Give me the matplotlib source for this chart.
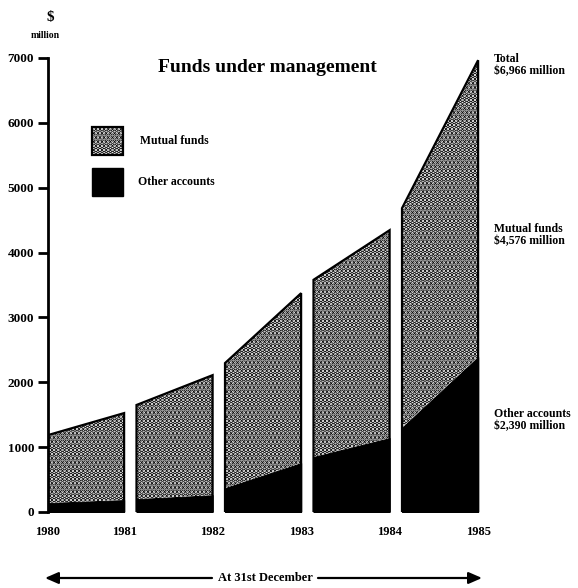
import matplotlib
matplotlib.use("Agg")
import matplotlib.pyplot as plt
from matplotlib.patches import Rectangle, FancyArrowPatch

# Funds under management, $ million, at the start and end of each yearly block
years = ["1980", "1981", "1982", "1983", "1984", "1985"]
mutual_start = [1046, 1450, 1926, 2730, 3384]
mutual_end = [1340, 1850, 2619, 3205, 4576]
other_start = [140, 200, 370, 850, 1300]
other_end = [185, 260, 755, 1140, 2390]
y_ticks = [0, 1000, 2000, 3000, 4000, 5000, 6000, 7000]

total_end_1985 = mutual_end[-1] + other_end[-1]

plt.rcParams["hatch.color"] = "black"
plt.rcParams["hatch.linewidth"] = 2.4
SERIF = ["Liberation Serif", "DejaVu Serif"]
STIPPLE = "...."

fig = plt.figure(figsize=(5.78, 5.88), dpi=100)
ax = fig.add_axes([48 / 578, 76 / 588, 442.5 / 578, 454 / 588])

block_w = 0.86
for i in range(len(mutual_start)):
    x = [i, i + block_w]
    o = [other_start[i], other_end[i]]
    t = [other_start[i] + mutual_start[i], other_end[i] + mutual_end[i]]
    ax.fill_between(x, 0, o, facecolor="black", edgecolor="black", lw=0.8)
    ax.fill_between(x, o, t, facecolor="white", edgecolor="black",
                    hatch=STIPPLE, lw=0)
    # outline of the stacked block
    ax.plot([x[0], x[0], x[1], x[1]], [0, t[0], t[1], 0], color="black",
            lw=1.6, solid_joinstyle="miter")

ax.set_xlim(0, 5)
ax.set_ylim(0, 7000)
for s in ["top", "right", "bottom"]:
    ax.spines[s].set_visible(False)
ax.spines["left"].set_linewidth(2)

ax.set_yticks(y_ticks)
ax.set_yticklabels([str(v) for v in y_ticks], fontfamily=SERIF,
                   fontweight="bold", fontsize=9.5)
ax.tick_params(axis="y", length=7, width=2, pad=3)

tick_x = [0] + [i + block_w for i in range(len(years) - 1)]
ax.set_xticks(tick_x)
ax.set_xticklabels(years, fontfamily=SERIF, fontweight="bold", fontsize=9)
ax.tick_params(axis="x", length=0, pad=10)

# title
ax.text(0.495, 0.978, "Funds under management", transform=ax.transAxes,
        ha="center", va="center", fontfamily=SERIF, fontweight="bold",
        fontsize=14)

# legend
ax.add_patch(Rectangle((0.0994, 0.786), 0.070, 0.0617, transform=ax.transAxes,
                       facecolor="white", edgecolor="black", hatch=STIPPLE,
                       lw=1.6, clip_on=False))
ax.add_patch(Rectangle((0.0994, 0.696), 0.070, 0.0617, transform=ax.transAxes,
                       facecolor="black", edgecolor="black", lw=1,
                       clip_on=False))
ax.text(0.208, 0.817, "Mutual funds", transform=ax.transAxes, ha="left",
        va="center", fontfamily=SERIF, fontweight="bold", fontsize=8.5)
ax.text(0.203, 0.727, "Other accounts", transform=ax.transAxes, ha="left",
        va="center", fontfamily=SERIF, fontweight="bold", fontsize=8.5)

# unit label
fig.text(50 / 578, 1 - 18 / 588, "$", ha="center", va="center",
         fontfamily=SERIF, fontweight="bold", fontsize=11)
fig.text(45 / 578, 1 - 36 / 588, "million", ha="center", va="center",
         fontfamily=SERIF, fontweight="bold", fontsize=7)

# right-hand annotations
right_kw = dict(ha="left", va="center", fontfamily=SERIF, fontweight="bold",
                fontsize=8.5, linespacing=1.0)
fig.text(494 / 578, 1 - 65 / 588,
         f"Total\n${total_end_1985:,} million", **right_kw)
fig.text(494 / 578, 1 - 235 / 588,
         f"Mutual funds\n${mutual_end[-1]:,} million", **right_kw)
fig.text(494 / 578, 1 - 420 / 588,
         f"Other accounts\n${other_end[-1]:,} million", **right_kw)

# "At 31st December" arrow
ay = 1 - 578 / 588
fig.text(265 / 578, ay, "At 31st December", ha="center", va="center",
         fontfamily=SERIF, fontweight="bold", fontsize=9)
for x0, x1 in [(212, 45), (318, 482)]:
    fig.add_artist(FancyArrowPatch((x0 / 578, ay), (x1 / 578, ay),
                                   transform=fig.transFigure,
                                   arrowstyle="-|>,head_length=8,head_width=3.5",
                                   color="black", lw=1.6, shrinkA=0, shrinkB=0))

fig.savefig("out.png", dpi=100, facecolor="white")
